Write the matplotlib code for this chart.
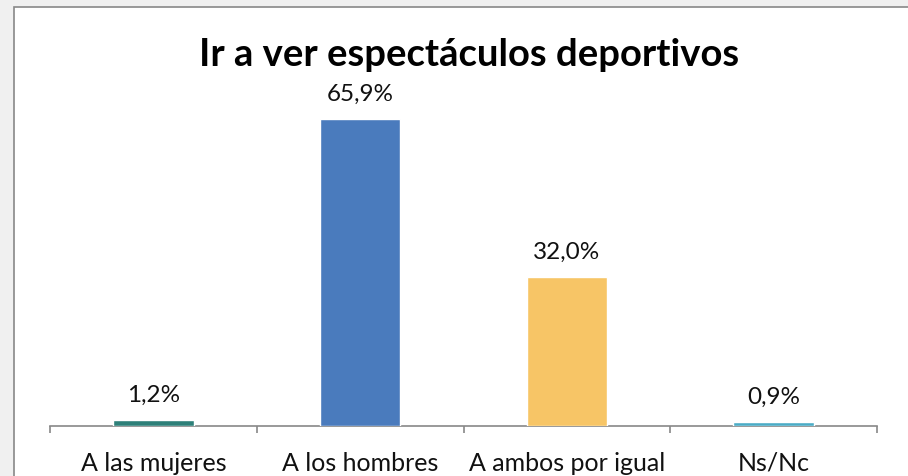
import matplotlib.pyplot as plt
from matplotlib.patches import Rectangle

# --- Data ---
categories = ["A las mujeres", "A los hombres", "A ambos por igual", "Ns/Nc"]
values = [1.2, 65.9, 32.0, 0.9]
value_labels = ["1,2%", "65,9%", "32,0%", "0,9%"]
colors = ["#2e8079", "#4a7bbd", "#f7c566", "#4bacc6"]

TITLE = "Ir a ver espectáculos deportivos"
FONT = ["Lato", "DejaVu Sans"]

plt.rcParams['font.family'] = FONT

fig = plt.figure(figsize=(9.08, 4.77), dpi=100)
fig.patch.set_facecolor("#f0f0f0")

# white chart area with gray border, running off right/bottom edge
W, H = 908.0, 477.0
fig.patches.append(Rectangle((14 / W, -0.05), 1.0, (H - 8) / H + 0.05,
                             transform=fig.transFigure, facecolor="white",
                             edgecolor="#888888", linewidth=1.2, zorder=-5))

# axes: baseline at y=427px, x from 50 to 877px
x0, x1 = 50 / W, 877 / W
y0 = (H - 427) / H
ytop = (H - 120) / H  # where 65.9 lands
ax = fig.add_axes([x0, y0, x1 - x0, ytop - y0])
ax.set_facecolor("none")
ax.set_zorder(2)

pos = list(range(len(categories)))
ax.bar(pos, values, width=0.39, color=colors, edgecolor="white", linewidth=1.0, zorder=3)

ax.set_xlim(-0.5, len(categories) - 0.5)
ax.set_ylim(0, 65.9)

for p, v, lab in zip(pos, values, value_labels):
    ax.annotate(lab, (p, v), xytext=(0, 11), textcoords="offset points",
                ha="center", va="bottom", fontsize=17.5, color="#111111",
                annotation_clip=False)

for side in ["top", "right", "left"]:
    ax.spines[side].set_visible(False)
ax.spines["bottom"].set_color("#888888")
ax.spines["bottom"].set_linewidth(1.2)
ax.set_yticks([])

ax.set_xticks([-0.5, 0.5, 1.5, 2.5, 3.5])
ax.set_xticklabels([])
ax.tick_params(axis="x", direction="out", length=5, color="#888888", width=1.2)
ax.tick_params(axis="x", which="minor", length=0, pad=18, labelsize=18)
ax.set_xticks(pos, minor=True)
ax.set_xticklabels(categories, minor=True, color="#111111")

fig.text((196 + 742) / 2 / W, (H - 55) / H, TITLE, ha="center", va="center",
         fontsize=27.5, fontweight="bold", color="black")

fig.savefig("out.png", dpi=100, facecolor=fig.get_facecolor())
